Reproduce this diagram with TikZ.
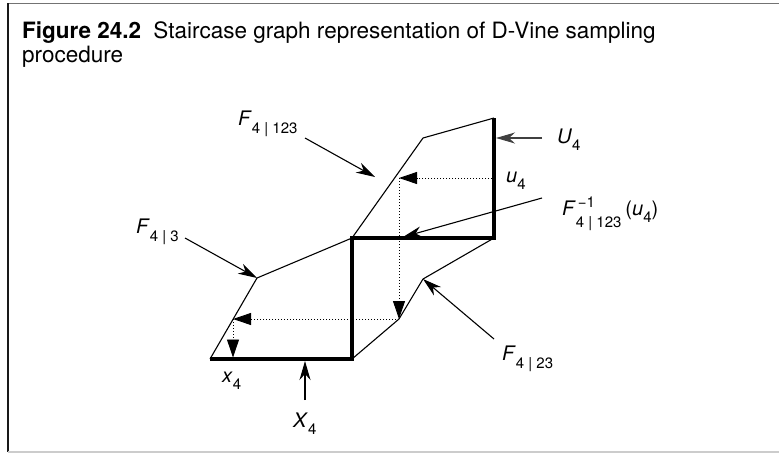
\documentclass[tikz,border=0pt]{standalone}
\usepackage{fontspec}
\setmainfont{TeX Gyre Heros}
\usetikzlibrary{arrows.meta}
\newcommand{\subsz}{\fontsize{15}{15}\selectfont}
\newcommand{\mainsz}{\fontsize{20}{20}\selectfont}
\begin{document}
\begin{tikzpicture}[x=1pt,y=-1pt,
  thickln/.style={line width=3.4pt,line join=miter,line cap=butt},
  thinln/.style={line width=1.1pt,line join=miter},
  dotarrow/.style={line width=0.9pt,dash pattern=on 1pt off 2pt,-{Triangle[length=18pt,width=12pt]}},
  pointer/.style={line width=1.1pt,-{Stealth[length=19pt,width=11pt,inset=6pt]}},
  lbl/.style={inner sep=0pt,anchor=base west,font=\mainsz},
  ttl/.style={inner sep=0pt,anchor=base west,font=\fontsize{22.5}{24}\selectfont}
]
\useasboundingbox (0,0) rectangle (779,453);
% frame
\draw[line width=1.6pt,draw=black!55] (7,3.5) -- (779,3.5);
\draw[line width=1.4pt,draw=black!90] (8,3) -- (8,452);
\draw[line width=1.2pt,draw=black!20] (8,452) -- (779,452);
% title
\node[ttl] (t1) at (22,38) {\textbf{Figure 24.2}\hspace{0.55em}Staircase graph representation of D-Vine sampling};
\node[ttl] (t2) at (22,62) {procedure};
% coordinates
\coordinate (A) at (210,359);
\coordinate (B) at (352,359);
\coordinate (C) at (352,238);
\coordinate (D) at (494,238);
\coordinate (E) at (494,118);
\coordinate (P1) at (257,278);
\coordinate (P2) at (423,138);
\coordinate (P3) at (399,319);
\coordinate (P4) at (423,279);
\coordinate (Q0) at (492,178);
\coordinate (Q1) at (399,178);
\coordinate (R) at (233,319);
\coordinate (S) at (233,357.5);
% curves
\draw[thinln] (A) -- (P1) -- (C);
\draw[thinln] (C) -- (P2) -- (E);
\draw[thinln] (B) -- (P3) -- (P4) -- (D);
\draw[thickln] (A) -- (B) -- (C) -- (D) -- (E);
% dotted path
\draw[dotarrow] (Q0) -- (Q1);
\draw[dotarrow] (Q1) -- (P3);
\draw[dotarrow] (P3) -- (R);
\draw[dotarrow] (R) -- (S);
% labels
\node[lbl] (lF123) at (238,125) {\textit{F}\raisebox{-8pt}{\subsz 4 | 123}};
\node[lbl] (lF3) at (136,233) {\textit{F}\raisebox{-8pt}{\subsz 4 | 3}};
\node[lbl] (lU) at (557,143) {\textit{U}\raisebox{-7.5pt}{\subsz 4}};
\node[lbl] (lu) at (506,182) {\textit{u}\raisebox{-7.5pt}{\subsz 4}};
\node[lbl] (lFinv) at (562,215) {\textit{F}\makebox[0pt][l]{\hspace{2pt}\raisebox{8pt}{\subsz −1}}\raisebox{-12pt}{\subsz 4 | 123}\hspace{4pt}(\textit{u}\raisebox{-7.5pt}{\subsz 4})};
\node[lbl] (lF23) at (502,360) {\textit{F}\raisebox{-8pt}{\subsz 4 | 23}};
\node[lbl] (lx) at (222,382) {\textit{x}\raisebox{-7.5pt}{\subsz 4}};
\node[lbl] (lX) at (293,427) {\textit{X}\raisebox{-7.5pt}{\subsz 4}};
% pointer arrows
\coordinate (a1s) at (305,138); \coordinate (a1e) at (375,177);
\coordinate (a2s) at (185,238);
\coordinate (a3s) at (542,138); \coordinate (a3e) at (496,138);
\coordinate (a4s) at (542,198); \coordinate (a4e) at (403,237);
\coordinate (a5s) at (494,339);
\coordinate (a6s) at (305,400); \coordinate (a6e) at (305,361);
\draw[pointer] (a1s) -- (a1e);
\draw[pointer] (a2s) -- (P1);
\draw[pointer,draw=black!75] (a3s) -- (a3e);
\draw[pointer] (a4s) -- (a4e);
\draw[pointer] (a5s) -- (P4);
\draw[pointer] (a6s) -- (a6e);
\end{tikzpicture}
\end{document}
